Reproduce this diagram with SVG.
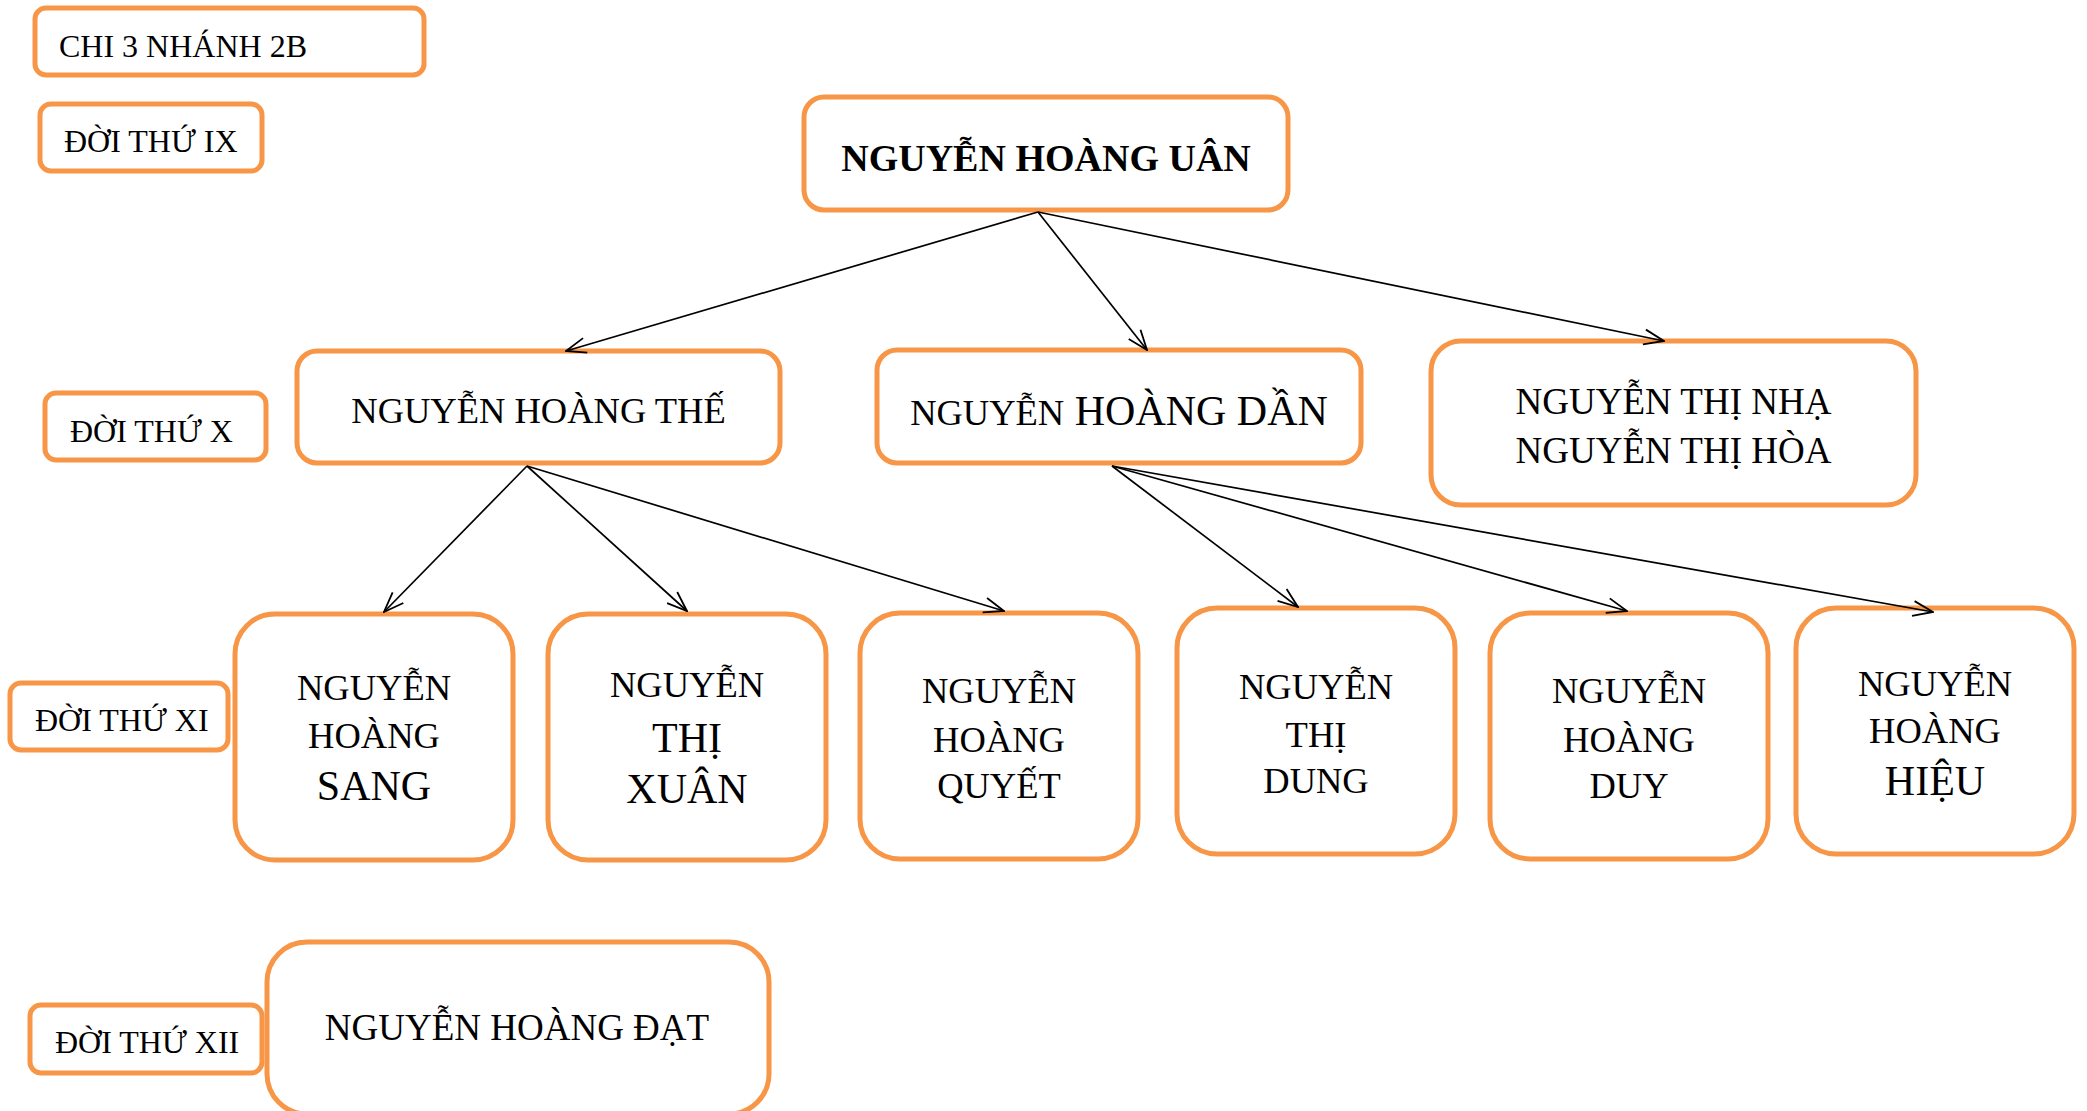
<svg xmlns="http://www.w3.org/2000/svg" width="2087" height="1111" viewBox="0 0 2087 1111">
<defs>
<marker id="arr" viewBox="0 0 22 18" refX="21" refY="9" markerWidth="22" markerHeight="18" markerUnits="userSpaceOnUse" orient="auto">
<path d="M1,1.5 L21,9 L1,16.5" fill="none" stroke="#000" stroke-width="1.8"/>
</marker>
</defs>
<style>
.box{fill:#fff;stroke:#F79646;stroke-width:5}
.t{font-family:"Liberation Serif","Times New Roman",serif;fill:#000}
.c{text-anchor:middle}
.s32{font-size:32px}
.s36{font-size:36.5px}
.s42{font-size:42px}
.con{stroke:#000;stroke-width:1.7;fill:none;marker-end:url(#arr)}
</style>
<rect width="2087" height="1111" fill="#fff"/>
<g id="chi">
<rect class="box" x="35" y="8" width="389" height="67" rx="11"/>
<text class="t s32" x="59" y="57">CHI 3 NHÁNH 2B</text>
</g>
<g id="doi9">
<rect class="box" x="40" y="104" width="222" height="67" rx="11"/>
<text class="t s32" x="64" y="152">ĐỜI THỨ IX</text>
</g>
<g id="doi10">
<rect class="box" x="45" y="393" width="221" height="67" rx="11"/>
<text class="t s32" x="70" y="442">ĐỜI THỨ X</text>
</g>
<g id="doi11">
<rect class="box" x="10" y="683" width="218" height="67" rx="11"/>
<text class="t s32" x="35" y="731">ĐỜI THỨ XI</text>
</g>
<g id="doi12">
<rect class="box" x="30" y="1005" width="232" height="68" rx="11"/>
<text class="t s32" x="55" y="1053">ĐỜI THỨ XII</text>
</g>
<g id="uan">
<rect class="box" x="804" y="97" width="484" height="113" rx="20"/>
<text class="t c" x="1046" y="171" font-size="38" font-weight="bold">NGUYỄN HOÀNG UÂN</text>
</g>
<g id="the">
<rect class="box" x="297" y="351" width="483" height="112" rx="20"/>
<text class="t c s36" x="538.5" y="423">NGUYỄN HOÀNG THẾ</text>
</g>
<g id="dan">
<rect class="box" x="877" y="350" width="484" height="113" rx="20"/>
<text class="t c" x="1119" y="425"><tspan class="s36">NGUYỄN</tspan><tspan class="s42"> HOÀNG DẦN</tspan></text>
</g>
<g id="nha">
<rect class="box" x="1431" y="341" width="485" height="164" rx="30"/>
<text class="t c" x="1673.5" y="414" font-size="37">NGUYỄN THỊ NHẠ</text>
<text class="t c" x="1673.5" y="463" font-size="37">NGUYỄN THỊ HÒA</text>
</g>
<g id="sang">
<rect class="box" x="235" y="614" width="278" height="246" rx="40"/>
<text class="t c s36" x="374" y="700">NGUYỄN</text>
<text class="t c s36" x="374" y="748">HOÀNG</text>
<text class="t c s42" x="374" y="800">SANG</text>
</g>
<g id="xuan">
<rect class="box" x="548" y="614" width="278" height="246" rx="40"/>
<text class="t c s36" x="687" y="697">NGUYỄN</text>
<text class="t c s42" x="687" y="752">THỊ</text>
<text class="t c s42" x="687" y="803">XUÂN</text>
</g>
<g id="quyet">
<rect class="box" x="860" y="613" width="278" height="246" rx="40"/>
<text class="t c s36" x="999" y="703">NGUYỄN</text>
<text class="t c s36" x="999" y="752">HOÀNG</text>
<text class="t c s36" x="999" y="798">QUYẾT</text>
</g>
<g id="dung">
<rect class="box" x="1177" y="608" width="278" height="246" rx="40"/>
<text class="t c s36" x="1316" y="699">NGUYỄN</text>
<text class="t c s36" x="1316" y="747">THỊ</text>
<text class="t c s36" x="1316" y="793">DUNG</text>
</g>
<g id="duy">
<rect class="box" x="1490" y="613" width="278" height="246" rx="40"/>
<text class="t c s36" x="1629" y="703">NGUYỄN</text>
<text class="t c s36" x="1629" y="752">HOÀNG</text>
<text class="t c s36" x="1629" y="798">DUY</text>
</g>
<g id="hieu">
<rect class="box" x="1796" y="608" width="278" height="246" rx="40"/>
<text class="t c s36" x="1935" y="696">NGUYỄN</text>
<text class="t c s36" x="1935" y="743">HOÀNG</text>
<text class="t c s42" x="1935" y="795">HIỆU</text>
</g>
<g id="dat">
<rect class="box" x="267" y="942" width="502" height="172" rx="40"/>
<text class="t c" x="517" y="1040" font-size="37">NGUYỄN HOÀNG ĐẠT</text>
</g>
<g id="connectors">
<line class="con" x1="1038" y1="212" x2="566" y2="351"/>
<line class="con" x1="1038" y1="212" x2="1147" y2="350"/>
<line class="con" x1="1038" y1="212" x2="1664" y2="341"/>
<line class="con" x1="527" y1="466" x2="384" y2="612"/>
<line class="con" x1="527" y1="466" x2="687" y2="611"/>
<line class="con" x1="527" y1="466" x2="1004" y2="611"/>
<line class="con" x1="1112" y1="466" x2="1298" y2="607"/>
<line class="con" x1="1112" y1="466" x2="1627" y2="611"/>
<line class="con" x1="1112" y1="466" x2="1933" y2="612"/>
</g>
</svg>
